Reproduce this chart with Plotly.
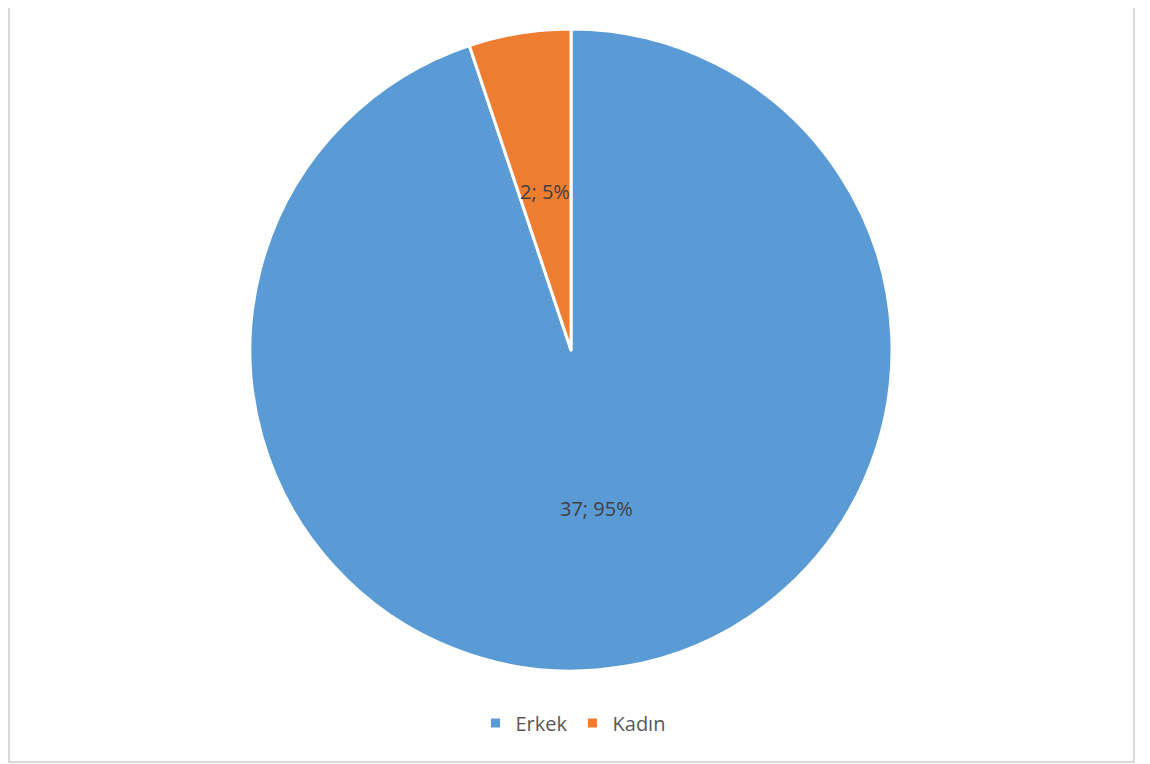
import math
import plotly.graph_objects as go

labels = ["Erkek", "Kadın"]
values = [37, 2]
colors = ["#5B9BD5", "#ED7D31"]

W, H = 1150, 764
# the page adds an 8px body margin; compensate so the picture lines up
OX, OY = 8, 8
cx, cy, R = 571 - OX, 350 - OY, 321

FONT = "Open Sans, Lato, sans-serif"

fig = go.Figure()
fig.add_trace(go.Pie(
    labels=labels,
    values=values,
    marker=dict(colors=colors, line=dict(color="#FFFFFF", width=3)),
    sort=False,
    direction="clockwise",
    rotation=0,
    textinfo="none",
    hoverinfo="label+value+percent",
    domain=dict(x=[(cx - R) / W, (cx + R) / W], y=[1 - (cy + R) / H, 1 - (cy - R) / H]),
    showlegend=True,
))

# data labels at half radius, computed from the values
total = sum(values)
annotations = []
cum = 0
for lab, v in zip(labels, values):
    mid = (cum + v / 2) / total * 2 * math.pi
    cum += v
    px = cx + 0.5 * R * math.sin(mid)
    py = cy - 0.5 * R * math.cos(mid)
    annotations.append(dict(
        x=px / W, y=1 - py / H, xref="paper", yref="paper",
        text=f"{v}; {round(v / total * 100)}%", showarrow=False,
        font=dict(family=FONT, size=20, color="#404040"),
        xanchor="center", yanchor="middle",
    ))

shapes = [
    # frame
    dict(type="rect", xref="paper", yref="paper",
         x0=(8 - OX + 1) / W, x1=(1134 - OX) / W, y0=1 - (762 - OY) / H, y1=1.05,
         line=dict(color="#D9D9D9", width=2), fillcolor="rgba(0,0,0,0)", layer="above"),
]

fig.update_layout(
    width=W, height=H,
    margin=dict(l=0, r=0, t=0, b=0),
    paper_bgcolor="#FFFFFF",
    plot_bgcolor="#FFFFFF",
    font=dict(family=FONT, size=20, color="#595959"),
    legend=dict(orientation="h", x=(573 - OX) / W, xanchor="center", y=1 - (723 - OY) / H, yanchor="middle",
                font=dict(family=FONT, size=20, color="#595959"), itemwidth=30, traceorder="normal"),
    annotations=annotations,
    shapes=shapes,
)

fig.write_html("out.html")
